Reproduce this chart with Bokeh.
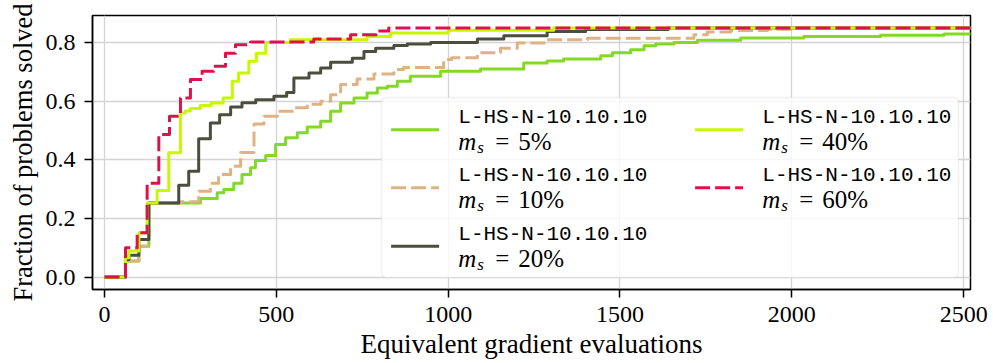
from bokeh.plotting import figure
from bokeh.models import (Range1d, FixedTicker, PrintfTickFormatter,
                          BoxAnnotation, Label, Arrow)
from bokeh.embed import file_html
from bokeh.resources import INLINE

# ---- data: fraction of problems solved vs. equivalent gradient evaluations ----
series_names = ["L-HS-N-10.10.10", "L-HS-N-10.10.10", "L-HS-N-10.10.10",
                "L-HS-N-10.10.10", "L-HS-N-10.10.10"]
ms_labels = ["5%", "10%", "20%", "40%", "60%"]

evals_ms5 = [0, 61, 100, 129, 279, 328, 347, 376, 400, 425, 439, 469, 498, 527,
             561, 590, 629, 658, 687, 726, 764, 794, 823, 852, 890, 978, 1094,
             1220, 1288, 1336, 1444, 1478, 1531, 1570, 1604, 1657, 1725, 1851,
             2035, 2258, 2443, 2600]
solved_ms5 = [0, 0.055, 0.105, 0.253, 0.268, 0.288, 0.299, 0.32, 0.35, 0.373,
              0.398, 0.415, 0.452, 0.475, 0.492, 0.512, 0.532, 0.566, 0.594,
              0.611, 0.628, 0.645, 0.651, 0.668, 0.685, 0.702, 0.71, 0.73,
              0.737, 0.744, 0.755, 0.765, 0.776, 0.789, 0.795, 0.80, 0.808,
              0.816, 0.821, 0.825, 0.829, 0.829]

evals_ms10 = [0, 61, 100, 129, 221, 274, 308, 332, 367, 396, 435, 464, 503, 551,
              590, 630, 658, 687, 735, 784, 842, 870, 987, 1010, 1085, 1152,
              1201, 1288, 1405, 1715, 1754, 1822, 1929, 2000, 2600]
solved_ms10 = [0, 0.055, 0.105, 0.253, 0.257, 0.293, 0.32, 0.35, 0.378, 0.425,
               0.522, 0.549, 0.566, 0.578, 0.59, 0.60, 0.622, 0.657, 0.676,
               0.693, 0.708, 0.715, 0.742, 0.748, 0.765, 0.781, 0.799, 0.81,
               0.815, 0.827, 0.836, 0.841, 0.846, 0.85, 0.85]

evals_ms20 = [0, 61, 71, 100, 129, 216, 245, 274, 308, 335, 367, 400, 440, 493,
              530, 551, 595, 629, 658, 721, 755, 789, 842, 881, 949, 1085, 1162,
              1288, 1400, 1640, 2600]
solved_ms20 = [0, 0.06, 0.074, 0.128, 0.253, 0.313, 0.361, 0.472, 0.526, 0.554,
               0.58, 0.595, 0.605, 0.617, 0.63, 0.679, 0.696, 0.713, 0.733,
               0.747, 0.77, 0.781, 0.79, 0.795, 0.80, 0.812, 0.823, 0.838,
               0.845, 0.85, 0.85]

evals_ms40 = [0, 61, 71, 100, 124, 153, 187, 221, 235, 250, 279, 310, 345, 372,
              390, 420, 442, 469, 541, 764, 832, 1000, 1307, 2600]
solved_ms40 = [0, 0.066, 0.089, 0.151, 0.253, 0.295, 0.424, 0.56, 0.567, 0.575,
               0.585, 0.594, 0.611, 0.668, 0.696, 0.736, 0.764, 0.80, 0.81,
               0.821, 0.833, 0.842, 0.85, 0.85]

evals_ms60 = [0, 61, 95, 124, 158, 189, 221, 250, 284, 318, 352, 381, 425, 609,
              716, 790, 827, 2600]
solved_ms60 = [0, 0.10, 0.151, 0.32, 0.486, 0.549, 0.611, 0.674, 0.702, 0.719,
               0.764, 0.793, 0.802, 0.812, 0.827, 0.84, 0.85, 0.85]

x_ticks = [0, 500, 1000, 1500, 2000, 2500]
y_ticks = [0.0, 0.2, 0.4, 0.6, 0.8]

colors = ["#84D924", "#DEB282", "#4B4D3D", "#C8F800", "#DC124E"]
dashes = ["solid", "15 5", "solid", "solid", "15 5"]
all_x = [evals_ms5, evals_ms10, evals_ms20, evals_ms40, evals_ms60]
all_y = [solved_ms5, solved_ms10, solved_ms20, solved_ms40, solved_ms60]

SERIF = "Liberation Serif"
MONO = "Liberation Mono"

p = figure(width=993, height=363, output_backend="svg", toolbar_location=None,
           x_range=Range1d(-35, 2520), y_range=Range1d(-0.0425, 0.8925),
           min_border_left=92, min_border_right=23,
           min_border_top=15, min_border_bottom=74)
p.background_fill_color = "white"
p.border_fill_color = "white"
p.outline_line_color = "black"
p.outline_line_width = 1.5

for xs, ys, c, d in zip(all_x, all_y, colors, dashes):
    p.step(xs, ys, mode="after", line_color=c, line_width=3, line_dash=d,
           line_join="round")

# axes
p.xaxis.ticker = FixedTicker(ticks=x_ticks)
p.yaxis.ticker = FixedTicker(ticks=y_ticks)
p.yaxis.formatter = PrintfTickFormatter(format="%.1f")
for ax in (p.xaxis[0], p.yaxis[0]):
    ax.axis_line_color = "black"
    ax.axis_line_width = 1.5
    ax.major_tick_line_color = "black"
    ax.major_tick_line_width = 1.5
    ax.major_tick_out = 8
    ax.major_tick_in = 0
    ax.minor_tick_line_color = None
    ax.major_label_text_font = SERIF
    ax.major_label_text_font_size = "24px"
    ax.major_label_text_color = "black"
    ax.axis_label_text_font = SERIF
    ax.axis_label_text_font_style = "normal"
    ax.axis_label_text_color = "black"
p.xaxis.axis_label = "Equivalent gradient evaluations"
p.yaxis.axis_label = "Fraction of problems solved"
p.xaxis.axis_label_text_font_size = "27px"
p.yaxis.axis_label_text_font_size = "26.5px"
p.xaxis.major_label_standoff = 9
p.yaxis.major_label_standoff = 9
p.xaxis.axis_label_standoff = 4
p.yaxis.axis_label_standoff = 5

p.grid.grid_line_color = "#d4d4d4"
p.grid.grid_line_width = 1.3

# legend drawn by hand (frame-relative screen units)
p.add_layout(BoxAnnotation(left=289, right=866, bottom=12, top=192,
                           left_units="screen", right_units="screen",
                           bottom_units="screen", top_units="screen",
                           fill_color="white", fill_alpha=0.8,
                           line_color="#cccccc", line_width=1.5,
                           border_radius=5))

col_handle_x = [298.6, 602.6]
col_text_x = [365.8, 669.8]
row_handle_y = [159.7, 101.7, 43.3]
slots = [(0, 0), (0, 1), (0, 2), (1, 0), (1, 1)]

for i, (col, row) in enumerate(slots):
    hx = col_handle_x[col]
    hy = row_handle_y[row]
    tx = col_text_x[col]
    p.add_layout(Arrow(x_start=hx, y_start=hy, x_end=hx + 48, y_end=hy,
                       start_units="screen", end_units="screen",
                       start=None, end=None, line_color=colors[i],
                       line_width=3, line_dash=dashes[i]))
    p.add_layout(Label(x=tx, y=hy + 12, x_units="screen", y_units="screen",
                       text=series_names[i], text_font=MONO,
                       text_font_size="21px", text_color="black",
                       text_baseline="middle", text_align="left"))
    line2 = hy - 12
    p.add_layout(Label(x=tx, y=line2, x_units="screen", y_units="screen",
                       text="m", text_font=SERIF, text_font_style="italic",
                       text_font_size="25px", text_color="black",
                       text_baseline="middle", text_align="left"))
    p.add_layout(Label(x=tx + 19, y=line2 - 6, x_units="screen", y_units="screen",
                       text="s", text_font=SERIF, text_font_style="italic",
                       text_font_size="17px", text_color="black",
                       text_baseline="middle", text_align="left"))
    p.add_layout(Label(x=tx + 37, y=line2, x_units="screen", y_units="screen",
                       text="=", text_font=SERIF,
                       text_font_size="25px", text_color="black",
                       text_baseline="middle", text_align="left"))
    p.add_layout(Label(x=tx + 60, y=line2, x_units="screen", y_units="screen",
                       text=ms_labels[i], text_font=SERIF,
                       text_font_size="25px", text_color="black",
                       text_baseline="middle", text_align="left"))

open("out.html", "w").write(file_html(p, INLINE))
